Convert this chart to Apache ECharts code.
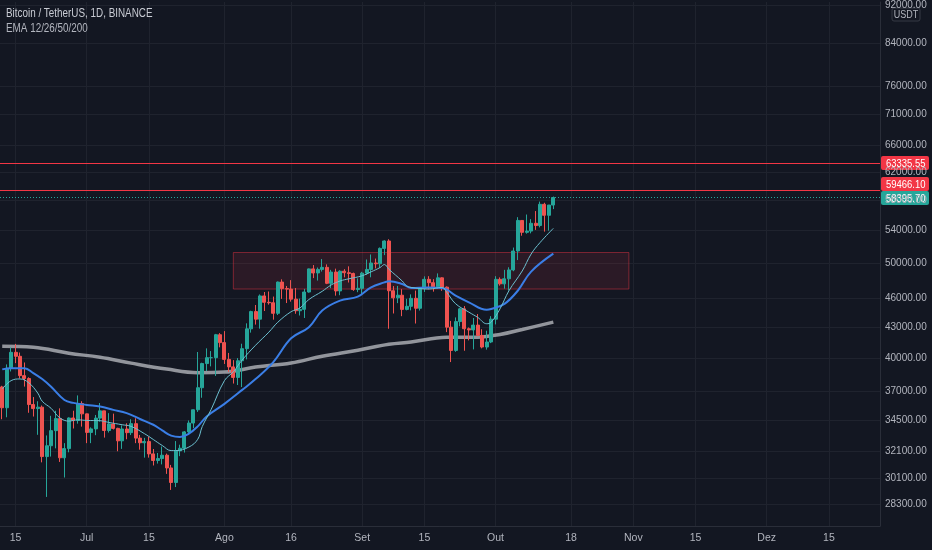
<!DOCTYPE html>
<html>
<head>
<meta charset="utf-8">
<script src="https://cdn.jsdelivr.net/npm/echarts@6/dist/echarts.min.js"></script>
<style>
html,body{margin:0;padding:0;background:#131722;}
#c{width:932px;height:550px;}
</style>
</head>
<body>
<div id="c"></div>
<script>
// ---- data ----
const startDate = [2021, 5, 12];   // 12 Jun 2021 (month is 0-based)
const dayCount = 198;              // visible days incl. empty future space
// daily candles [open, high, low, close], from 12 Jun 2021
const candles = [
[37340,37440,34600,35550],[35550,39380,34760,39020],[39020,40980,38730,40520],[40520,41330,39500,40140],
[40140,40500,38100,38350],[38350,39560,37370,38090],[38090,38200,35130,35820],[35820,36460,34820,35480],
[35480,36100,33350,35600],[35600,35740,31250,31680],[31680,33300,28800,32500],[32500,34880,31680,33680],
[33680,35300,32300,34650],[34650,35500,31280,31590],[31590,32700,30150,32280],[32280,34750,32000,34700],
[34700,35300,33850,34500],[34500,36600,34240,35910],[35910,36100,34000,35040],
[35040,35060,32700,33540],[33540,33940,32700,33820],[33820,34950,33320,34690],[34690,35950,34400,35290],
[35290,35290,33130,33690],[33690,35100,33530,34220],[34220,35060,33770,33860],[33860,33910,32080,32880],
[32880,34100,32260,33810],[33810,34270,33000,33520],[33520,34600,33330,34240],[34240,34680,32700,33090],
[33090,33340,32200,32730],[32730,33110,31600,32820],[32820,33190,31600,31880],[31880,32250,31020,31390],
[31390,31950,31160,31530],[31530,32440,31100,31780],[31780,31900,30410,30840],[30840,31060,29280,29800],
[29800,32860,29480,32110],[32110,32580,31710,32310],[32310,33650,31980,33580],[33580,34500,33400,34290],
[34290,35400,33880,35380],[35380,40550,35200,37270],[37270,39540,36400,39460],[39460,40900,38770,40010],
[40010,40640,39200,40010],[40010,42320,38320,42240],[42240,42400,41000,41460],
[41460,42600,39420,39850],[39850,40460,38690,39150],[39150,39780,37640,38190],[38190,39970,37510,39720],
[39720,41350,37330,40870],[40870,43390,39850,42830],[42830,44700,42450,44610],[44610,45310,43260,43820],
[43820,46450,42850,46290],[46290,46720,44670,45600],[45600,46780,45350,45550],[45550,46220,43770,44430],
[44430,47890,44250,47830],[47830,48140,45970,47100],[47100,47390,45520,47040],[47040,48050,45670,45940],
[45940,47160,44380,44700],[44700,46000,44200,44850],[44850,47070,43940,46720],[46720,49380,46650,49340],
[49340,49790,48280,48870],[48870,49500,48000,49280],[49280,50500,49030,49520],[49520,49870,47600,47690],
[47690,49230,47150,48970],[48970,49370,46320,46840],[46840,49180,46370,49070],[49070,49310,48370,48900],
[48900,49640,47780,48810],[48810,48910,46850,46990],[46990,48250,46700,47130],
[47130,49000,46510,48850],[48850,50450,48650,49280],[49280,51050,48370,50030],[50030,50560,49400,49940],
[49940,51900,49500,51790],[51790,52780,50970,52700],[52700,52920,42840,46860],[46860,47380,44410,46080],
[46080,47400,45510,46370],[46370,47030,44130,44840],[44840,45980,44740,45170],[45170,46460,44740,46030],
[46030,46880,43370,44960],[44960,47250,44720,47130],[47130,48480,46730,48140],[48140,48500,47020,47760],
[47760,48160,46760,47300],[47300,48820,47060,48310],[48310,48370,46850,47260],[47260,47340,42500,43000],
[43000,43640,39600,40700],[40700,44000,40570,43570],[43570,44980,43090,44900],[44900,45200,40670,42840],
[42840,42970,41680,42720],[42720,43940,40800,43210],[43210,44350,42100,42170],[42170,42790,40900,41030],
[41030,42640,40780,41520],[41520,44130,41410,43820],
[43820,48500,43280,48140],[48140,48360,47430,47630],[47630,49230,47090,48200],[48200,49530,46890,49220],
[49220,51890,49070,51470],[51470,55750,50380,55320],[55320,55340,53360,53790],[53790,56100,53620,53950],
[53950,55490,53660,54950],[54950,56560,54100,54660],[54660,57840,54420,57470],[57470,57680,53880,56000],
[56000,57360,54000,57370],[57370,58530,56820,58395.7]
];
// EMA lines: [day index, value]
const ema12 = [[0,37150],[2,37900],[4,38050],[6,37700],[8,36800],[9,36100],[11,35500],[13,34700],[15,34450],
[17,34550],[19,34500],[22,34480],[24,34340],[27,34150],[29,34020],[32,33440],[34,32980],[36,32520],[38,32130],
[39,32130],[42,32400],[44,33000],[45,34000],[47,35400],[50,37900],[52,38700],[54,39800],[57,41200],[60,42500],
[62,43500],[65,44600],[67,45000],[69,45900],[72,46800],[74,47500],[76,47950],[78,48200],[81,48550],[83,49000],
[85,49500],[86,49850],[87,49300],[90,47950],[91,47400],[92,47230],[96,47050],[99,47230],[100,46700],[102,45450],
[105,44550],[107,44000],[109,43350],[110,43500],[112,44900],[114,46850],[117,49100],[119,51100],[121,52500],[124,54300]];
const ema26 = [[0,38920],[2,39030],[5,39030],[7,38580],[9,38040],[11,37360],[14,36210],[16,35960],[19,35790],
[22,35650],[25,35370],[28,35100],[31,34620],[34,34150],[36,33700],[38,33290],[40,33180],[42,33440],[44,34020],
[46,34830],[50,35880],[54,37080],[57,38040],[61,39600],[65,41880],[69,43000],[72,44720],[76,45780],[80,46210],
[83,47230],[86,47790],[87,47920],[90,47610],[92,47170],[96,47230],[99,47170],[102,46320],[105,45600],[109,44800],
[110,44880],[113,45430],[116,46860],[119,49030],[124,51150]];
const ema200 = [[0,41100],[7,41000],[15,40430],[22,40050],[29,39500],[37,38950],[44,38620],[50,38670],[57,39130],
[65,39520],[72,40150],[80,40720],[87,41300],[92,41520],[100,41980],[107,42000],[112,42270],[117,42770],[124,43510]];
const yTicks = [28300,30100,32100,34500,37000,40000,43000,46000,50000,54000,58000,62000,66000,71000,76000,84000,92000];
const xTickDates = ['2021-06-15','2021-07-01','2021-07-15','2021-08-01','2021-08-16','2021-09-01','2021-09-15',
'2021-10-01','2021-10-18','2021-11-01','2021-11-15','2021-12-01','2021-12-15'];
const xTickLabels = ['15','Jul','15','Ago','16','Set','15','Out','18','Nov','15','Dez','15'];
const levelLines = [63335.55, 59466.10];
const lastPrice = 58395.70;
const zoneX = ['2021-08-03','2021-10-31'];
const zoneY = [51290, 47050];
const yRange = [26890, 92660];

// ---- build ----
const categories = [];
const t0 = Date.UTC(startDate[0], startDate[1], startDate[2]);
for (let i = 0; i < dayCount; i++) {
  categories.push(new Date(t0 + i * 86400000).toISOString().slice(0, 10));
}
const FONT = '"Liberation Sans","Roboto",sans-serif';
const UP = '#26a69a', DOWN = '#ef5350', RED = '#f23645';
const gridColor = '#1f232e';
const textColor = '#b2b5be';
const plotRight = 880;

const chart = echarts.init(document.getElementById('c'), null, {renderer: 'canvas'});
const toPairs = arr => arr.map(p => [categories[p[0]], p[1]]);

chart.setOption({
  backgroundColor: '#131722',
  animation: false,
  grid: {left: 0, right: 932 - plotRight, top: 0, bottom: 24},
  xAxis: {
    type: 'category',
    data: categories,
    boundaryGap: true,
    axisLine: {show: true, onZero: false, lineStyle: {color: '#2a2e39'}},
    axisTick: {show: false, alignWithLabel: true, customValues: xTickDates},
    axisLabel: {
      customValues: xTickDates,
      formatter: v => xTickLabels[xTickDates.indexOf(v)],
      color: textColor, fontSize: 10.5, fontFamily: FONT, margin: 7
    },
    splitLine: {show: true, alignWithLabel: true, lineStyle: {color: gridColor, width: 1}}
  },
  yAxis: {
    type: 'log',
    logBase: 10,
    position: 'right',
    min: yRange[0],
    max: yRange[1],
    axisLine: {show: true, lineStyle: {color: '#2a2e39'}},
    axisTick: {show: false, customValues: yTicks},
    axisLabel: {
      customValues: yTicks,
      formatter: v => Number(v).toFixed(2),
      color: textColor, fontSize: 10, fontFamily: FONT, margin: 5
    },
    splitLine: {show: true, lineStyle: {color: gridColor, width: 1}}
  },
  series: [
    {
      type: 'line', name: 'EMA 200', z: 2,
      data: toPairs(ema200), smooth: 0.4, symbol: 'none',
      lineStyle: {color: '#a9abb2', width: 3.5, opacity: 0.85}
    },
    {
      type: 'candlestick', name: 'BTCUSDT', z: 3,
      data: candles.map(c => [c[0], c[3], c[2], c[1]]),
      barWidth: 3.5,
      itemStyle: {color: UP, color0: DOWN, borderColor: UP, borderColor0: DOWN, borderWidth: 1},
      markLine: {
        silent: true, symbol: ['none', 'none'], label: {show: false},
        lineStyle: {color: RED, width: 1, type: 'solid', opacity: 1},
        data: [
          {yAxis: levelLines[0], lineStyle: {color: RED, width: 1, type: 'solid'}},
          {yAxis: levelLines[1], lineStyle: {color: RED, width: 1, type: 'solid'}},
          {yAxis: lastPrice, lineStyle: {color: UP, width: 1, type: [1, 2]}}
        ]
      },
      markArea: {
        silent: true,
        itemStyle: {color: 'rgba(242,54,69,0.11)', borderColor: 'rgba(242,54,69,0.45)', borderWidth: 1},
        data: [[{xAxis: zoneX[0], yAxis: zoneY[0]}, {xAxis: zoneX[1], yAxis: zoneY[1]}]]
      }
    },
    {
      type: 'line', name: 'EMA 26', z: 4,
      data: toPairs(ema26), smooth: 0.4, symbol: 'none',
      lineStyle: {color: '#3a7ee6', width: 2}
    },
    {
      type: 'line', name: 'EMA 12', z: 5,
      data: toPairs(ema12), smooth: 0.4, symbol: 'none',
      lineStyle: {color: '#6cc0d0', width: 1}
    }
  ]
});

// price tags on the axis, placed through the chart's own y scale
const yPix = v => chart.convertToPixel({yAxisIndex: 0}, v);
const yLast = yPix(lastPrice);
const y63 = yPix(levelLines[0]);
const y59 = Math.min(yPix(levelLines[1]), yLast - 14);
function tag(y, value, bg) {
  return {
    type: 'group', x: plotRight, y: Math.round(y) - 7, z: 100,
    children: [
      {type: 'rect', shape: {x: 1, y: 0, width: 48, height: 14, r: 2}, style: {fill: bg}},
      {type: 'text', x: 6, y: 7.5, scaleX: 0.86,
        style: {x: 0, y: 0, text: value.toFixed(2), fill: '#ffffff',
        font: '11px ' + FONT, verticalAlign: 'middle'}}
    ]
  };
}
chart.setOption({
  graphic: [
    {type: 'text', x: 6, y: 7, scaleX: 0.79, z: 100,
      style: {text: 'Bitcoin / TetherUS, 1D, BINANCE', fill: '#c9ccd4', font: '12.5px ' + FONT}},
    {type: 'text', x: 6, y: 22, scaleX: 0.79, z: 100,
      style: {text: 'EMA 12/26/50/200', fill: '#b2b5be', font: '12.5px ' + FONT}},
    {type: 'group', x: 892, y: 8, z: 100, children: [
      {type: 'rect', shape: {x: 0, y: 0, width: 28, height: 13, r: 2},
        style: {fill: '#131722', stroke: '#363a45', lineWidth: 1}},
      {type: 'text', x: 14, y: 7, scaleX: 0.9, style: {x: 0, y: 0, text: 'USDT', fill: textColor, font: '10px ' + FONT,
        align: 'center', verticalAlign: 'middle'}}
    ]},
    tag(y63, levelLines[0], RED),
    tag(y59, levelLines[1], RED),
    tag(yLast, lastPrice, '#26a69a')
  ]
});
</script>
</body>
</html>
